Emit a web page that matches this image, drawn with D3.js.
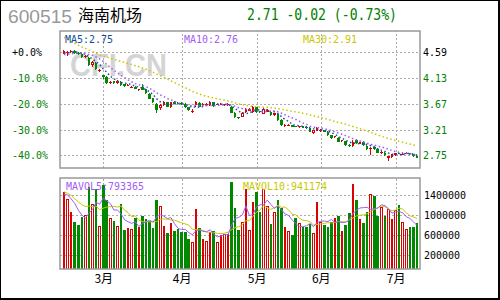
<!DOCTYPE html>
<html lang="zh">
<head>
<meta charset="UTF-8">
<script src="https://d3js.org/d3.v7.min.js"></script>
<title>600515 海南机场</title>
<style>
  body { margin: 0; background: #fff; }
  svg { display: block; }
</style>
</head>
<body>
<svg id="mainsvg" width="500" height="300"></svg>
<script>
// ---- data ----
const monthLabels = ['3月', '4月', '5月', '6月', '7月']
const monthStarts = [11, 33, 54, 72, 93]
const priceTicks = [4.59, 4.13, 3.67, 3.21, 2.75]
const pctTicks = ['+0.0%', '-10.0%', '-20.0%', '-30.0%', '-40.0%']
const volTicks = [1400000, 1000000, 600000, 200000]

// closes / volumes before the visible window (only feed the moving averages)
const prevCloses = [5.80, 5.72, 5.62, 5.52, 5.44, 5.36, 5.30, 5.22, 5.18, 5.17,
  4.72, 4.68, 4.64, 4.62, 4.60, 4.58, 4.57, 4.56, 4.55, 4.54,
  4.54, 4.53, 4.53, 4.52, 4.53, 4.54, 4.55, 4.56, 4.58]
const prevVolumes = [1620000, 1480000, 1550000, 1410000, 1540000, 1380000, 1460000, 1330000, 1460000]

const open = [4.58, 4.57, 4.59, 4.62, 4.58, 4.56, 4.51, 4.49, 4.37, 4.40,
  4.26, 4.18, 4.15, 4.04, 4.07, 4.04, 4.06, 4.02, 3.99, 3.96,
  3.97, 3.92, 3.97, 3.93, 3.85, 3.77, 3.67, 3.60, 3.64, 3.70,
  3.61, 3.70, 3.69, 3.68, 3.67, 3.61, 3.52, 3.64, 3.69, 3.64,
  3.65, 3.64, 3.70, 3.65, 3.65, 3.64, 3.64, 3.62, 3.51, 3.43,
  3.44, 3.52, 3.55, 3.52, 3.61, 3.54, 3.49, 3.53, 3.53, 3.47,
  3.49, 3.38, 3.28, 3.29, 3.29, 3.27, 3.25, 3.27, 3.26, 3.24,
  3.15, 3.19, 3.19, 3.20, 3.17, 3.11, 3.07, 3.06, 3.00, 3.00,
  2.94, 2.92, 3.02, 2.96, 2.99, 2.92, 2.86, 2.89, 2.86, 2.79,
  2.80, 2.70, 2.72, 2.75, 2.80, 2.77, 2.78, 2.79, 2.77, 2.74]
const close = [4.61, 4.60, 4.62, 4.58, 4.56, 4.50, 4.53, 4.36, 4.41, 4.29,
  4.28, 4.14, 4.05, 4.06, 4.05, 4.08, 4.01, 3.99, 4.01, 3.97,
  3.94, 3.93, 3.92, 3.86, 3.76, 3.70, 3.56, 3.65, 3.70, 3.62,
  3.70, 3.67, 3.67, 3.66, 3.61, 3.56, 3.55, 3.70, 3.62, 3.67,
  3.67, 3.70, 3.63, 3.66, 3.66, 3.66, 3.66, 3.51, 3.44, 3.42,
  3.51, 3.58, 3.58, 3.61, 3.52, 3.52, 3.58, 3.56, 3.47, 3.50,
  3.38, 3.29, 3.30, 3.30, 3.26, 3.26, 3.27, 3.24, 3.23, 3.17,
  3.20, 3.23, 3.21, 3.17, 3.11, 3.06, 3.09, 2.99, 3.02, 2.93,
  2.91, 2.98, 2.97, 2.98, 2.93, 2.86, 2.88, 2.86, 2.80, 2.81,
  2.75, 2.73, 2.76, 2.79, 2.78, 2.78, 2.79, 2.77, 2.73, 2.71]
const high = [4.63, 4.62, 4.64, 4.63, 4.59, 4.57, 4.55, 4.51, 4.43, 4.41,
  4.29, 4.19, 4.16, 4.08, 4.08, 4.09, 4.07, 4.03, 4.02, 3.99,
  3.98, 3.94, 4.02, 3.94, 3.86, 3.78, 3.68, 3.66, 3.72, 3.71,
  3.71, 3.72, 3.70, 3.70, 3.68, 3.62, 3.57, 3.72, 3.70, 3.68,
  3.68, 3.72, 3.71, 3.67, 3.68, 3.67, 3.68, 3.63, 3.52, 3.44,
  3.52, 3.60, 3.59, 3.63, 3.62, 3.55, 3.59, 3.57, 3.54, 3.51,
  3.50, 3.39, 3.31, 3.31, 3.30, 3.28, 3.28, 3.28, 3.27, 3.25,
  3.21, 3.25, 3.22, 3.21, 3.18, 3.12, 3.10, 3.07, 3.03, 3.01,
  2.95, 3.03, 3.04, 2.99, 3.00, 2.93, 2.89, 2.90, 2.87, 2.82,
  2.81, 2.74, 2.77, 2.80, 2.81, 2.80, 2.81, 2.80, 2.78, 2.75]
const low = [4.56, 4.52, 4.57, 4.56, 4.54, 4.49, 4.49, 4.35, 4.33, 4.28,
  4.24, 4.12, 4.03, 4.02, 4.03, 4.03, 3.98, 3.97, 3.98, 3.95,
  3.93, 3.90, 3.91, 3.85, 3.75, 3.69, 3.50, 3.56, 3.63, 3.61,
  3.60, 3.66, 3.66, 3.65, 3.60, 3.55, 3.50, 3.62, 3.61, 3.63,
  3.64, 3.63, 3.62, 3.64, 3.64, 3.63, 3.63, 3.50, 3.42, 3.40,
  3.43, 3.51, 3.54, 3.51, 3.51, 3.51, 3.48, 3.52, 3.46, 3.46,
  3.37, 3.28, 3.26, 3.28, 3.25, 3.25, 3.24, 3.23, 3.22, 3.16,
  3.13, 3.18, 3.17, 3.16, 3.10, 3.05, 3.06, 2.98, 2.99, 2.92,
  2.90, 2.90, 2.96, 2.95, 2.92, 2.85, 2.76, 2.85, 2.79, 2.78,
  2.74, 2.65, 2.71, 2.74, 2.77, 2.76, 2.77, 2.76, 2.72, 2.70]
const volume = [1466000, 1326000, 1066000, 866000, 806000, 966000, 1006000, 1566000, 1226000, 1526000,
  786000, 1606000, 1306000, 946000, 886000, 786000, 1226000, 706000, 746000, 726000,
  946000, 766000, 986000, 926000, 886000, 756000, 1306000, 1186000, 786000, 646000,
  846000, 690000, 726000, 666000, 666000, 526000, 470000, 1130000, 750000, 520000,
  490000, 670000, 690000, 470000, 610000, 630000, 630000, 1670000, 1150000, 710000,
  870000, 1530000, 710000, 1270000, 1470000, 1070000, 1530000, 1190000, 830000, 1070000,
  1310000, 1150000, 770000, 690000, 610000, 950000, 850000, 770000, 770000, 830000,
  650000, 1270000, 870000, 810000, 770000, 870000, 950000, 990000, 690000, 810000,
  1050000, 1630000, 1310000, 930000, 850000, 1070000, 1430000, 1390000, 990000, 1170000,
  990000, 1130000, 930000, 1110000, 1210000, 870000, 730000, 770000, 770000, 850000]

// ---- canvas ----
const svg = d3.select('#mainsvg')
const width = +svg.attr('width')
const height = +svg.attr('height')
const P = { left: 60, right: 420, top: 31, bottom: 168 }   // price panel
const V = { left: 60, right: 420, top: 178, bottom: 269 }  // volume panel
const RED = '#dd0000', GREEN = '#008800'
const MONO = '"DejaVu Sans Mono", monospace'
const CJK = '"Noto Sans CJK SC", sans-serif'

const idx = d3.range(close.length)
const x = d3.scalePoint().domain(idx).range([64, 417])
const yP = d3.scaleLinear().domain([2.75, 4.59]).range([155.3, 52.3])
const yV = d3.scaleLinear().domain([200000, 1400000]).range([255.3, 195.3])

const movingAvg = (prev, vals, n) => {
  const all = prev.concat(vals)
  return vals.map((_, i) => d3.mean(all.slice(prev.length + i - n + 1, prev.length + i + 1)))
}

svg.append('rect').attr('width', width).attr('height', height).attr('fill', '#fff')

// outer frame
const frame = svg.append('g').attr('fill', '#000').attr('shape-rendering', 'crispEdges')
frame.append('rect').attr('x', 0).attr('y', 0).attr('width', width).attr('height', 1)
frame.append('rect').attr('x', 0).attr('y', 0).attr('width', 1).attr('height', height)
frame.append('rect').attr('x', width - 2).attr('y', 0).attr('width', 2).attr('height', height)
frame.append('rect').attr('x', 0).attr('y', height - 2).attr('width', width).attr('height', 2)

// header
svg.append('text').attr('x', 8).attr('y', 23).text('600515')
  .attr('font-family', '"Liberation Sans", Arial, sans-serif').attr('font-size', 18)
  .attr('fill', '#999').attr('textLength', 64).attr('lengthAdjust', 'spacingAndGlyphs')
svg.append('text').attr('x', 78).attr('y', 21).text('海南机场')
  .attr('font-family', CJK).attr('font-size', 16).attr('fill', '#000')
svg.append('text').attr('x', 247).attr('y', 20).text('2.71 -0.02 (-0.73%)')
  .attr('font-family', MONO).attr('font-size', 15).attr('fill', '#008000')
  .attr('textLength', 150).attr('lengthAdjust', 'spacingAndGlyphs')

const styleGrid = g => {
  g.select('.domain').remove()
  g.selectAll('line').attr('stroke', '#aaa').attr('stroke-dasharray', '2,2')
    .attr('shape-rendering', 'crispEdges')
}

// grids
svg.append('g').attr('transform', `translate(${P.left},0)`)
  .call(d3.axisLeft(yP).tickValues(priceTicks).tickSize(-(P.right - P.left)).tickFormat(''))
  .call(styleGrid)
svg.append('g').attr('transform', `translate(0,${P.bottom})`)
  .call(d3.axisBottom(x).tickValues(monthStarts).tickSize(-(P.bottom - P.top)).tickFormat(''))
  .call(styleGrid)
svg.append('g').attr('transform', `translate(${V.left},0)`)
  .call(d3.axisLeft(yV).tickValues(volTicks).tickSize(-(V.right - V.left)).tickFormat(''))
  .call(styleGrid)
svg.append('g').attr('transform', `translate(0,${V.bottom})`)
  .call(d3.axisBottom(x).tickValues(monthStarts).tickSize(-(V.bottom - V.top)).tickFormat(''))
  .call(styleGrid)

// watermark
svg.append('text').attr('x', 70).attr('y', 76).text('CFI.CN')
  .attr('font-family', '"Liberation Sans", Arial, sans-serif').attr('font-weight', 'bold')
  .attr('font-size', 32).attr('fill', '#d4d4d4')
  .attr('textLength', 97).attr('lengthAdjust', 'spacingAndGlyphs')

// bar geometry helpers (pixel snapped)
const bx0 = i => Math.round(x(i) - 1.3)
const bw = i => Math.round(x(i) + 1.3) - bx0(i)
const isUp = i => close[i] >= open[i]

// candles
const candles = svg.append('g').attr('shape-rendering', 'crispEdges')
idx.forEach(i => {
  const c = isUp(i) ? RED : GREEN
  const w = bw(i), x0 = bx0(i)
  const wx = x0 + Math.floor((w - 1) / 2)
  const hy = Math.round(yP(high[i])), ly = Math.round(yP(low[i]))
  candles.append('rect').attr('x', wx).attr('y', hy).attr('width', 1)
    .attr('height', Math.max(1, ly - hy)).attr('fill', c)
  const top = Math.round(yP(Math.max(open[i], close[i])))
  const bot = Math.round(yP(Math.min(open[i], close[i])))
  const h = Math.max(1, bot - top)
  candles.append('rect').attr('x', x0).attr('y', top).attr('width', w).attr('height', h).attr('fill', c)
  if (isUp(i) && w > 2 && h > 2) {
    candles.append('rect').attr('x', x0 + 1).attr('y', top + 1)
      .attr('width', w - 2).attr('height', h - 2).attr('fill', '#fff')
  }
})

// price moving averages
const lineP = d3.line().x((d, i) => x(i)).y(d => yP(d))
const maSeries = [
  { n: 5, color: '#1c4f9f' },
  { n: 10, color: '#a35cf5' },
  { n: 30, color: '#c8c800' }
]
maSeries.forEach(s => {
  svg.append('path').datum(movingAvg(prevCloses, close, s.n))
    .attr('d', lineP).attr('fill', 'none').attr('stroke', s.color)
    .attr('stroke-width', 1.5).attr('stroke-dasharray', '1.5,2.5')
})

// volume bars
const vbars = svg.append('g').attr('shape-rendering', 'crispEdges')
idx.forEach(i => {
  const c = isUp(i) ? RED : GREEN
  const w = bw(i), x0 = bx0(i)
  const top = Math.round(yV(volume[i]))
  const h = V.bottom - top
  vbars.append('rect').attr('x', x0).attr('y', top).attr('width', w).attr('height', h).attr('fill', c)
  if (isUp(i) && w > 2) {
    vbars.append('rect').attr('x', x0 + 1).attr('y', top + 1)
      .attr('width', w - 2).attr('height', h - 1).attr('fill', '#fff')
  }
})

const lineV = d3.line().x((d, i) => x(i)).y(d => yV(d))
svg.append('path').datum(movingAvg(prevVolumes, volume, 10)).attr('d', lineV)
  .attr('fill', 'none').attr('stroke', '#c8c800').attr('stroke-width', 1)
svg.append('path').datum(movingAvg(prevVolumes, volume, 5)).attr('d', lineV)
  .attr('fill', 'none').attr('stroke', '#a35cf5').attr('stroke-width', 1)

// panel borders
;[P, V].forEach(p => {
  svg.append('rect').attr('x', p.left).attr('y', p.top)
    .attr('width', p.right - p.left).attr('height', p.bottom - p.top)
    .attr('fill', 'none').attr('stroke', '#999').attr('stroke-width', 1.5)
})

// axis labels
const styleLabels = (g, colorFn) => {
  g.select('.domain').remove()
  g.attr('font-family', MONO).attr('font-size', 11)
  g.selectAll('text')
    .attr('fill', colorFn)
    .attr('textLength', function () { return this.textContent.length * 6 })
    .attr('lengthAdjust', 'spacingAndGlyphs')
}
const leftAx = svg.append('g').attr('transform', 'translate(12,0)')
  .call(d3.axisLeft(yP).tickValues(priceTicks).tickSize(0).tickFormat((d, i) => pctTicks[i]))
leftAx.selectAll('text').attr('text-anchor', 'start').attr('x', 0)
styleLabels(leftAx, (d, i) => i === 0 ? '#000' : '#008000')

const rightAx = svg.append('g').attr('transform', `translate(${P.right},0)`)
  .call(d3.axisRight(yP).tickValues(priceTicks).tickSize(0).tickPadding(3).tickFormat(d3.format('.2f')))
styleLabels(rightAx, (d, i) => i === 0 ? '#000' : '#008000')

const volAx = svg.append('g').attr('transform', `translate(${V.right},0)`)
  .call(d3.axisRight(yV).tickValues(volTicks).tickSize(0).tickPadding(4).tickFormat(d3.format('d')))
styleLabels(volAx, () => '#000')

const monthAx = svg.append('g').attr('transform', `translate(0,${V.bottom + 1})`)
  .call(d3.axisBottom(x).tickValues(monthStarts).tickSize(0).tickPadding(4)
    .tickFormat((d, i) => monthLabels[i]))
monthAx.select('.domain').remove()
monthAx.attr('font-family', CJK).attr('font-size', 12)
monthAx.selectAll('text').attr('fill', '#000')

// legends
const legend = (txt, lx, ly, color) => {
  svg.append('text').attr('x', lx).attr('y', ly).text(txt)
    .attr('font-family', MONO).attr('font-size', 11).attr('fill', color)
    .attr('textLength', txt.length * 6).attr('lengthAdjust', 'spacingAndGlyphs')
}
legend('MA5:2.75', 65, 43, '#0f4c9c')
legend('MA10:2.76', 184, 43, '#a35cf5')
legend('MA30:2.91', 303, 43, '#c8c800')
legend('MAVOL5:793365', 66, 190, '#a35cf5')
legend('MAVOL10:941174', 243, 190, '#c8c800')
</script>
</body>
</html>
